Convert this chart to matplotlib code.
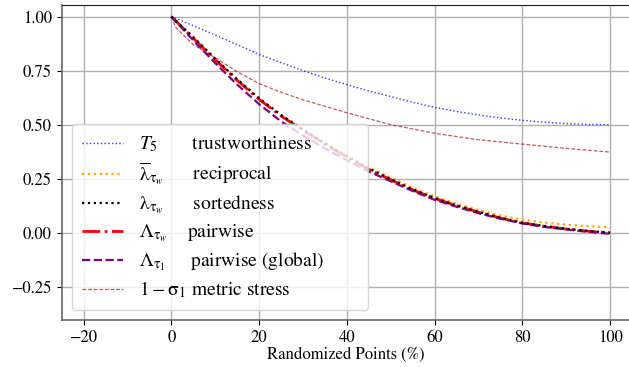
import matplotlib
matplotlib.use("Agg")
import matplotlib.pyplot as plt
import numpy as np

plt.rcParams['font.family'] = ['STIXGeneral', 'DejaVu Sans']
plt.rcParams['mathtext.fontset'] = 'stix'

x = [0, 5, 10, 15, 20, 25, 30, 35, 40, 45, 50, 55, 60, 65, 70, 75, 80, 85, 90, 95, 100]

trust = [1.0, 0.958, 0.915, 0.87, 0.825, 0.787, 0.75, 0.716, 0.685, 0.656, 0.63, 0.604, 0.58, 0.561, 0.545, 0.531, 0.52, 0.511, 0.505, 0.501, 0.50]
recip = [1.0, 0.905, 0.805, 0.71, 0.622, 0.545, 0.478, 0.415, 0.357, 0.302, 0.255, 0.208, 0.168, 0.134, 0.105, 0.08, 0.06, 0.047, 0.037, 0.03, 0.025]
sorted_ = [1.0, 0.905, 0.805, 0.71, 0.622, 0.545, 0.478, 0.413, 0.353, 0.297, 0.248, 0.2, 0.16, 0.126, 0.096, 0.069, 0.046, 0.031, 0.018, 0.008, 0.0]
pair = [1.0, 0.90, 0.80, 0.705, 0.617, 0.54, 0.474, 0.41, 0.35, 0.293, 0.245, 0.198, 0.159, 0.125, 0.095, 0.068, 0.045, 0.03, 0.017, 0.007, 0.0]
pair_g = [1.0, 0.89, 0.785, 0.685, 0.595, 0.515, 0.45, 0.39, 0.335, 0.283, 0.238, 0.193, 0.152, 0.12, 0.09, 0.065, 0.043, 0.027, 0.015, 0.004, -0.005]
stress_x = [0, 1, 2.5, 5, 10, 15, 20, 25, 30, 35, 40, 50, 60, 70, 80, 90, 100]
stress = [1.0, 0.95, 0.92, 0.87, 0.81, 0.745, 0.69, 0.65, 0.615, 0.585, 0.555, 0.50, 0.46, 0.43, 0.41, 0.39, 0.373]

labels = [r"$T_5$" + "       trustworthiness",
          r"$\overline{\mathrm{\lambda}}_{\mathrm{\tau}_w}$" + "      reciprocal",
          r"$\mathrm{\lambda}_{\mathrm{\tau}_w}$" + "      sortedness",
          r"$\Lambda_{\mathrm{\tau}_w}$" + "    pairwise",
          r"$\Lambda_{\mathrm{\tau}_1}$" + "     pairwise (global)",
          r"$1-\mathrm{\sigma}_1$" + " metric stress"]

fig = plt.figure(figsize=(6.29, 3.67), dpi=100)
ax = fig.add_axes([0.098, 0.128, 0.902, 0.858])

ax.plot(x, trust, color='blue', ls=':', lw=1.0, alpha=0.8, label=labels[0])
ax.plot(x, recip, color='orange', ls=':', lw=1.6, label=labels[1], zorder=3)
ax.plot(x, sorted_, color='black', ls=':', lw=1.6, label=labels[2], zorder=4)
ax.plot(x, pair, color='red', ls='-.', lw=2.0, label=labels[3], zorder=3)
ax.plot(x, pair_g, color='purple', ls='--', lw=1.6, label=labels[4], zorder=3)
ax.plot(stress_x, stress, color='firebrick', ls=(0, (3, 1.5)), lw=0.9, alpha=0.75, label=labels[5])

ax.set_xlim(-25, 104.3)
ax.set_ylim(-0.404, 1.053)
ax.set_xticks([-20, 0, 20, 40, 60, 80, 100])
ax.set_xticklabels(['\u221220', '0', '20', '40', '60', '80', '100'])
ax.set_yticks([-0.25, 0.0, 0.25, 0.5, 0.75, 1.0])
ax.set_yticklabels(['\u22120.25', '0.00', '0.25', '0.50', '0.75', '1.00'])
ax.tick_params(labelsize=12, length=3.5, width=0.8, color='black')
ax.grid(True, color='#b0b0b0', lw=1.0)
ax.set_axisbelow(True)
ax.set_xlabel('Randomized Points (%)', fontsize=12, labelpad=1)

for s in ['left', 'bottom']:
    ax.spines[s].set_color('#666666')
    ax.spines[s].set_linewidth(1.2)
ax.spines['top'].set_color('#222222')
ax.spines['right'].set_visible(False)

ax.legend(loc='lower left', bbox_to_anchor=(0.0185, 0.0317, 0.5215, 0.58), mode='expand',
          borderaxespad=0.0, fontsize=14, handlelength=2.1, handletextpad=0.85,
          labelspacing=0.33, borderpad=0.5, framealpha=0.8)

fig.savefig('out.png', dpi=100)
